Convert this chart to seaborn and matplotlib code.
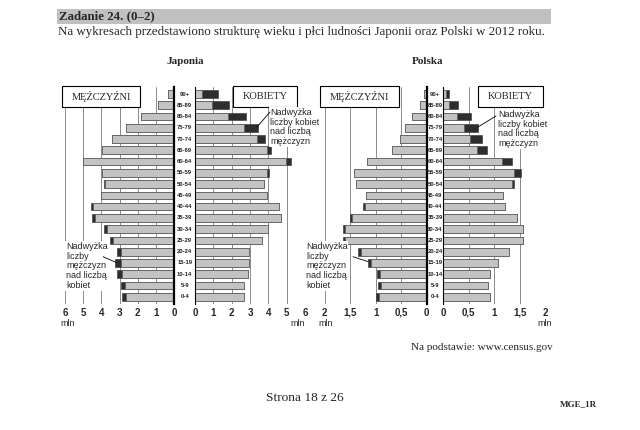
import numpy as np
import pandas as pd
import seaborn as sns
import matplotlib.pyplot as plt

# age groups, top to bottom
ages = ['90+', '85-89', '80-84', '75-79', '70-74', '65-69', '60-64', '55-59', '50-54',
        '45-49', '40-44', '35-39', '30-34', '25-29', '20-24', '15-19', '10-14', '5-9', '0-4']

# Japonia (mln)
jp_men = [0.33, 0.91, 1.82, 2.67, 3.42, 3.96, 5.00, 3.96, 3.85, 4.04,
          4.55, 4.51, 3.85, 3.55, 3.13, 3.27, 3.16, 2.95, 2.87]
jp_men_surplus = [0, 0, 0, 0, 0, 0, 0, 0, 0.07, 0,
                  0.08, 0.15, 0.16, 0.18, 0.22, 0.36, 0.31, 0.25, 0.20]
jp_women = [1.24, 1.85, 2.76, 3.42, 3.82, 4.13, 5.22, 4.06, 3.76, 3.95,
            4.56, 4.67, 4.00, 3.64, 2.95, 2.95, 2.87, 2.69, 2.69]
jp_women_surplus = [0.88, 0.90, 0.94, 0.75, 0.42, 0.18, 0.26, 0.13, 0, 0,
                    0, 0, 0, 0, 0, 0, 0, 0, 0]

# Polska (mln)
pl_men = [0.05, 0.13, 0.28, 0.42, 0.53, 0.68, 1.17, 1.42, 1.38, 1.19,
          1.25, 1.51, 1.64, 1.64, 1.34, 1.15, 0.97, 0.95, 0.99]
pl_men_surplus = [0, 0, 0, 0, 0, 0, 0, 0, 0, 0,
                  0.04, 0.05, 0.05, 0.05, 0.05, 0.06, 0.05, 0.06, 0.06]
pl_women = [0.12, 0.29, 0.54, 0.69, 0.75, 0.85, 1.34, 1.52, 1.39, 1.18,
            1.21, 1.45, 1.57, 1.57, 1.29, 1.08, 0.92, 0.88, 0.92]
pl_women_surplus = [0.07, 0.17, 0.28, 0.28, 0.23, 0.18, 0.18, 0.13, 0.04, 0,
                    0, 0, 0, 0, 0, 0, 0, 0, 0]

jp_ticks = [0, 1, 2, 3, 4, 5, 6]
jp_ticklabels = ['0', '1', '2', '3', '4', '5', '6']
pl_ticks = [0, 0.5, 1, 1.5, 2]
pl_ticklabels = ['0', '0,5', '1', '1,5', '2']

sns.set_style("white")
plt.rcParams['font.family'] = ['Liberation Sans', 'DejaVu Sans']

W, H = 640, 430
fig = plt.figure(figsize=(6.4, 4.3), dpi=100)
fig.patch.set_facecolor('white')

GRAY = '#c3c3c3'
DARK = '#2e2e2e'
SERIF = ['Liberation Serif', 'DejaVu Serif']
TOP, BOT = 87.2, 303.5


def px_axes(x0, x1):
    return fig.add_axes([x0 / W, 1 - BOT / H, (x1 - x0) / W, (BOT - TOP) / H])


def ftext(x, y, s, **kw):
    fig.text(x / W, 1 - y / H, s, **kw)


def side(ax, total, surplus, xmax, ticks, labels, men):
    df = pd.DataFrame({'age': ages, 'total': total,
                       'base': np.array(total) - np.array(surplus)})
    sns.barplot(data=df, x='total', y='age', orient='h', color=DARK, saturation=1,
                width=0.68, edgecolor='#444444', linewidth=0.5, ax=ax)
    sns.barplot(data=df, x='base', y='age', orient='h', color=GRAY, saturation=1,
                width=0.68, edgecolor='#5a5a5a', linewidth=0.5, ax=ax)
    ax.set_ylim(18.6, -0.6)
    ax.set_xlim((xmax, 0) if men else (0, xmax))
    ax.set_xticks(ticks)
    ax.set_xticklabels(labels, fontweight='bold', fontsize=7)
    ax.tick_params(axis='x', length=0, pad=3)
    ax.set_yticks([])
    ax.set_xlabel('')
    ax.set_ylabel('')
    ax.grid(axis='x', color='#8a8a8a', linewidth=0.7)
    ax.set_axisbelow(True)
    for s in ax.spines.values():
        s.set_visible(False)
    sp = ax.spines['right' if men else 'left']
    sp.set_visible(True)
    sp.set_color('black')
    sp.set_linewidth(1.6 if men else 0.8)
    ax.patch.set_alpha(0)


ax_jm = px_axes(65, 174.3)
ax_jw = px_axes(195, 305)
ax_pm = px_axes(324.5, 426.7)
ax_pw = px_axes(443.3, 545.3)
side(ax_jm, jp_men, jp_men_surplus, 6, jp_ticks, jp_ticklabels, True)
side(ax_jw, jp_women, jp_women_surplus, 6, jp_ticks, jp_ticklabels, False)
side(ax_pm, pl_men, pl_men_surplus, 2, pl_ticks, pl_ticklabels, True)
side(ax_pw, pl_women, pl_women_surplus, 2, pl_ticks, pl_ticklabels, False)

# age labels in the middle
for cx in (184.7, 435):
    for i, a in enumerate(ages):
        ftext(cx, 94 + i * 11.26, a, fontsize=4.2, fontweight='bold',
              ha='center', va='center', color='#222222')

# sex boxes
for (x0, x1, label) in [(62, 140, 'MĘŻCZYŹNI'), (233, 297, 'KOBIETY'),
                        (320, 399, 'MĘŻCZYŹNI'), (478, 543, 'KOBIETY')]:
    r = plt.Rectangle((x0 / W, 1 - 107 / H), (x1 - x0) / W, 21 / H,
                      transform=fig.transFigure, facecolor='white',
                      edgecolor='black', linewidth=0.8, zorder=5)
    fig.patches.append(r)
    ftext((x0 + x1) / 2, 96.5, label, fontsize=7.5, family=SERIF,
          ha='center', va='center', zorder=6)

# annotations
ann_kw = dict(fontsize=6.5, ha='left', va='top', linespacing=1.1, zorder=6,
              bbox=dict(facecolor='white', edgecolor='none', pad=0.5))
ftext(270, 108, 'Nadwyżka\nliczby kobiet\nnad liczbą\nmężczyzn', **ann_kw)
ftext(498, 110, 'Nadwyżka\nliczby kobiet\nnad liczbą\nmężczyzn', **ann_kw)
ftext(66, 242, 'Nadwyżka\nliczby\nmężczyzn\nnad liczbą\nkobiet', **ann_kw)
ftext(306, 242, 'Nadwyżka\nliczby\nmężczyzn\nnad liczbą\nkobiet', **ann_kw)
for (xa, ya, xb, yb) in [(270, 112, 257, 127), (496, 116, 478, 127),
                         (103, 256.7, 116.7, 262.7), (353, 256.7, 368.3, 261.7)]:
    fig.add_artist(plt.Line2D([xa / W, xb / W], [1 - ya / H, 1 - yb / H],
                              transform=fig.transFigure, color='black',
                              linewidth=0.6, zorder=7))

# mln units
for x in (68, 298, 326, 545):
    ftext(x, 323, 'mln', fontsize=6.5, ha='center', va='center')

# page texts
band = plt.Rectangle((57 / W, 1 - 24 / H), (551 - 57) / W, 15 / H,
                     transform=fig.transFigure, facecolor='#c0c0c0',
                     edgecolor='none', zorder=0)
fig.patches.append(band)
ftext(59, 16.5, 'Zadanie 24. (0–2)', fontsize=9.3, fontweight='bold', family=SERIF,
      va='center')
ftext(58, 32, 'Na wykresach przedstawiono strukturę wieku i płci ludności '
      'Japonii oraz Polski w 2012 roku.', fontsize=9.4, family=SERIF, va='center')
ftext(185, 62, 'Japonia', fontsize=8, fontweight='bold', family=SERIF,
      ha='center', va='center')
ftext(428, 62, 'Polska', fontsize=8, fontweight='bold', family=SERIF,
      ha='center', va='center')
ftext(411, 348, 'Na podstawie: www.census.gov', fontsize=8, family=SERIF,
      va='center')
ftext(305, 398, 'Strona 18 z 26', fontsize=9.6, family=SERIF, ha='center',
      va='center')
ftext(560, 404, 'MGE_1R', fontsize=6.5, fontweight='bold', family=SERIF,
      va='center')

fig.savefig('out.png', dpi=100, facecolor='white')
